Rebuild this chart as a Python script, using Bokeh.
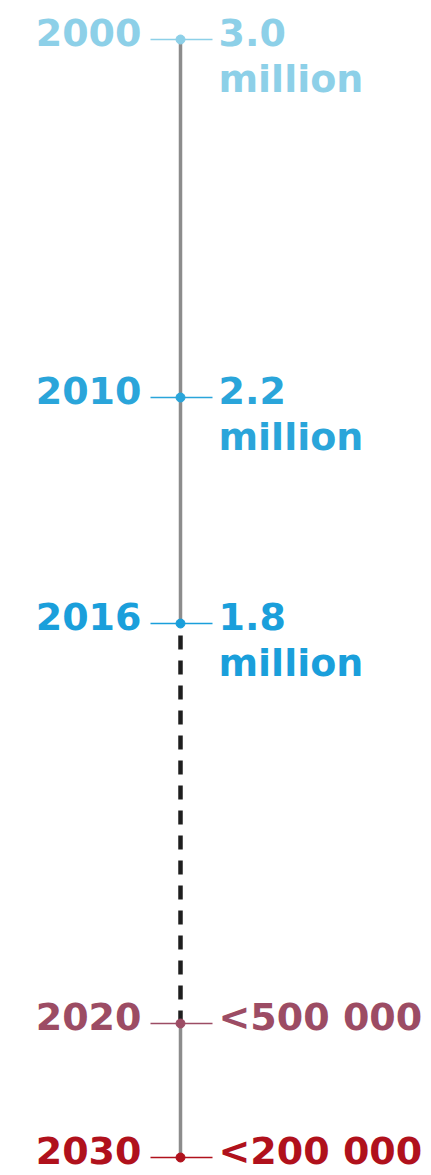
from bokeh.plotting import figure
from bokeh.models import Range1d, LinearInterpolator, ColumnDataSource
from bokeh.transform import transform
from bokeh.core.properties import value
from bokeh.embed import file_html
from bokeh.resources import INLINE

# ---- data ----
years = [2000, 2010, 2016, 2020, 2030]
year_labels = ["2000", "2010", "2016", "2020", "2030"]
value_labels = ["3.0", "2.2", "1.8", "<500 000", "<200 000"]
unit_labels = ["million", "million", "million", "", ""]
segment_start = [2000, 2016, 2020]
segment_end = [2016, 2020, 2030]

# ---- styles ----
point_colors = ["#8dd0e8", "#2aa5da", "#1a9fdb", "#9c4c64", "#b0111c"]
FONT = value("DejaVu Sans")
FSIZE = "38px"

# schematic (non-proportional) vertical layout of the infographic timeline
timeline = LinearInterpolator(x=years, y=[39, 397, 623, 1023, 1157])

W, H = 431, 1175
AX = 180  # horizontal position of the timeline
p = figure(width=W, height=H, output_backend="svg", toolbar_location=None,
           x_range=Range1d(-AX, W - AX), y_range=Range1d(H, 0),
           x_axis_type=None, y_axis_type=None, min_border=0)
p.grid.visible = False
p.outline_line_color = None
p.background_fill_color = "white"
p.border_fill_color = "white"

pts = ColumnDataSource(dict(year=years, ylab=year_labels, vlab=value_labels,
                            ulab=unit_labels, color=point_colors))

seg_solid = ColumnDataSource(dict(y0=[segment_start[0], segment_start[2]],
                                  y1=[segment_end[0], segment_end[2]]))
seg_dash = ColumnDataSource(dict(y0=[segment_start[1]], y1=[segment_end[1]]))

p.segment(x0=0, x1=0, y0=transform("y0", timeline), y1=transform("y1", timeline),
          source=seg_solid, line_color="#8c8c8c", line_width=3.5)
p.segment(x0=0, x1=0, y0=transform("y0", timeline), y1=transform("y1", timeline),
          source=seg_dash, line_color="#1e1e1e", line_width=4.5, line_dash="14 11",
          line_dash_offset=-12)

# tick marks
p.segment(x0=-30, x1=32, y0=transform("year", timeline), y1=transform("year", timeline),
          source=pts, line_color="color", line_width=1.6)
# dots
p.scatter(x=0, y=transform("year", timeline), source=pts, size=9,
          fill_color="color", line_color="color")

# year labels
p.text(x=0, y=transform("year", timeline), text="ylab", source=pts,
       x_offset=-39, y_offset=-7, text_align="right", text_baseline="alphabetic",
       text_color="color", text_font=FONT, text_font_style="bold",
       text_font_size=FSIZE)
# value labels
p.text(x=0, y=transform("year", timeline), text="vlab", source=pts,
       x_offset=38, y_offset=-7, text_align="left", text_baseline="alphabetic",
       text_color="color", text_font=FONT, text_font_style="bold",
       text_font_size=FSIZE)
p.text(x=0, y=transform("year", timeline), text="ulab", source=pts,
       x_offset=38, y_offset=39, text_align="left", text_baseline="alphabetic",
       text_color="color", text_font=FONT, text_font_style="bold",
       text_font_size=FSIZE)

open("out.html", "w").write(file_html(p, INLINE))
